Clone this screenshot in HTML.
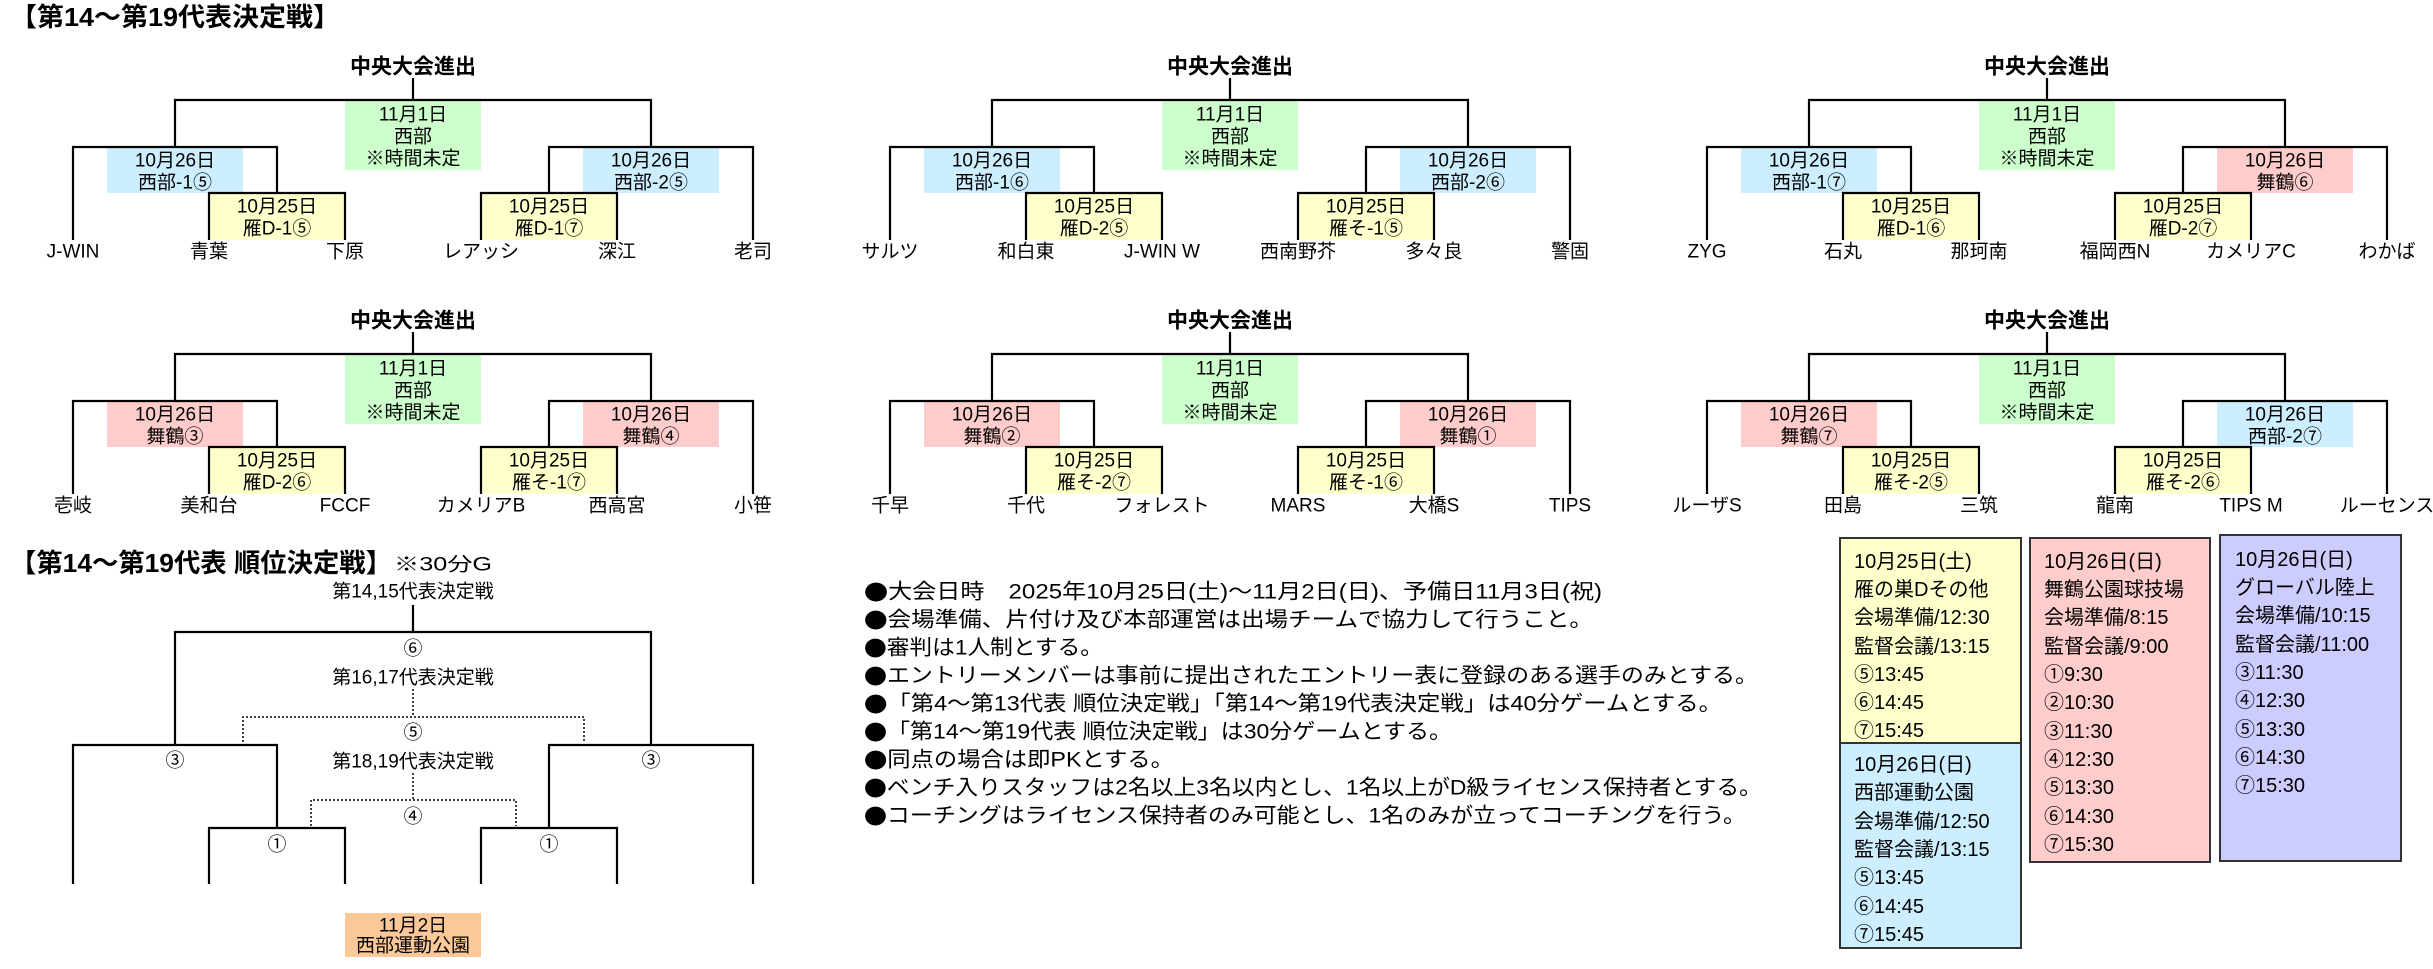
<!DOCTYPE html>
<html><head><meta charset="utf-8"><style>
html,body{margin:0;padding:0;background:#fff;width:2433px;height:969px;overflow:hidden}
svg{display:block}
text{font-family:"Liberation Sans","Noto Sans CJK JP",sans-serif;fill:#000}
.t{font-size:19px;text-anchor:middle;dominant-baseline:central}
.h{font-size:21px;font-weight:bold;text-anchor:middle;dominant-baseline:central}
.l{font-size:19px;text-anchor:middle;dominant-baseline:central}
.n{font-size:21px;dominant-baseline:central}
.s{font-size:20px;dominant-baseline:central}
.b{font-family:"Noto Sans CJK JP",sans-serif}
.ln{fill:none;stroke:#000;stroke-width:2.2}
.dt{fill:none;stroke:#000;stroke-width:1.5;stroke-dasharray:2 2}
</style></head><body>
<svg width="2433" height="969" viewBox="0 0 2433 969" xmlns="http://www.w3.org/2000/svg">
<defs>
<g id="br">
<line class="ln" x1="0" y1="78" x2="0" y2="100"/>
<rect x="-68" y="100" width="136" height="70" fill="#ccffcc"/>
<rect x="-204" y="193" width="136" height="47" fill="#ffffcc"/>
<rect x="68" y="193" width="136" height="47" fill="#ffffcc"/>
</g>
<g id="lines">
<polyline class="ln" points="-238,147 -238,100 238,100 238,147"/>
<polyline class="ln" points="-340,240 -340,147 -136,147 -136,193"/>
<polyline class="ln" points="-204,240 -204,193 -68,193 -68,240"/>
<polyline class="ln" points="340,240 340,147 136,147 136,193"/>
<polyline class="ln" points="204,240 204,193 68,193 68,240"/>
</g>
</defs>

<text x="10" y="17" font-size="26" font-weight="bold" dominant-baseline="central" textLength="330" lengthAdjust="spacingAndGlyphs">【第14～第19代表決定戦】</text>

<!-- B1 -->
<g transform="translate(413,0)">
<use href="#br"/>
<rect x="-306" y="147" width="136" height="46" fill="#cceeff"/>
<rect x="170" y="147" width="136" height="46" fill="#cceeff"/>
<use href="#lines"/>
<text class="h" x="0" y="67">中央大会進出</text>
<text class="t" x="0" y="115">11月1日</text><text class="t" x="0" y="137">西部</text><text class="t" x="0" y="159">※時間未定</text>
<text class="t" x="-238" y="161">10月26日</text><text class="t" x="-238" y="183">西部-1⑤</text>
<text class="t" x="238" y="161">10月26日</text><text class="t" x="238" y="183">西部-2⑤</text>
<text class="t" x="-136" y="207">10月25日</text><text class="t" x="-136" y="229">雁D-1⑤</text>
<text class="t" x="136" y="207">10月25日</text><text class="t" x="136" y="229">雁D-1⑦</text>
<text class="l" x="-340" y="252">J-WIN</text><text class="l" x="-204" y="252">青葉</text><text class="l" x="-68" y="252">下原</text>
<text class="l" x="68" y="252">レアッシ</text><text class="l" x="204" y="252">深江</text><text class="l" x="340" y="252">老司</text>
</g>

<!-- B2 -->
<g transform="translate(1230,0)">
<use href="#br"/>
<rect x="-306" y="147" width="136" height="46" fill="#cceeff"/>
<rect x="170" y="147" width="136" height="46" fill="#cceeff"/>
<use href="#lines"/>
<text class="h" x="0" y="67">中央大会進出</text>
<text class="t" x="0" y="115">11月1日</text><text class="t" x="0" y="137">西部</text><text class="t" x="0" y="159">※時間未定</text>
<text class="t" x="-238" y="161">10月26日</text><text class="t" x="-238" y="183">西部-1⑥</text>
<text class="t" x="238" y="161">10月26日</text><text class="t" x="238" y="183">西部-2⑥</text>
<text class="t" x="-136" y="207">10月25日</text><text class="t" x="-136" y="229">雁D-2⑤</text>
<text class="t" x="136" y="207">10月25日</text><text class="t" x="136" y="229">雁そ-1⑤</text>
<text class="l" x="-340" y="252">サルツ</text><text class="l" x="-204" y="252">和白東</text><text class="l" x="-68" y="252">J-WIN W</text>
<text class="l" x="68" y="252">西南野芥</text><text class="l" x="204" y="252">多々良</text><text class="l" x="340" y="252">警固</text>
</g>

<!-- B3 -->
<g transform="translate(2047,0)">
<use href="#br"/>
<rect x="-306" y="147" width="136" height="46" fill="#cceeff"/>
<rect x="170" y="147" width="136" height="46" fill="#ffcccc"/>
<use href="#lines"/>
<text class="h" x="0" y="67">中央大会進出</text>
<text class="t" x="0" y="115">11月1日</text><text class="t" x="0" y="137">西部</text><text class="t" x="0" y="159">※時間未定</text>
<text class="t" x="-238" y="161">10月26日</text><text class="t" x="-238" y="183">西部-1⑦</text>
<text class="t" x="238" y="161">10月26日</text><text class="t" x="238" y="183">舞鶴⑥</text>
<text class="t" x="-136" y="207">10月25日</text><text class="t" x="-136" y="229">雁D-1⑥</text>
<text class="t" x="136" y="207">10月25日</text><text class="t" x="136" y="229">雁D-2⑦</text>
<text class="l" x="-340" y="252">ZYG</text><text class="l" x="-204" y="252">石丸</text><text class="l" x="-68" y="252">那珂南</text>
<text class="l" x="68" y="252">福岡西N</text><text class="l" x="204" y="252">カメリアC</text><text class="l" x="340" y="252">わかば</text>
</g>

<!-- B4 -->
<g transform="translate(413,254)">
<use href="#br"/>
<rect x="-306" y="147" width="136" height="46" fill="#ffcccc"/>
<rect x="170" y="147" width="136" height="46" fill="#ffcccc"/>
<use href="#lines"/>
<text class="h" x="0" y="67">中央大会進出</text>
<text class="t" x="0" y="115">11月1日</text><text class="t" x="0" y="137">西部</text><text class="t" x="0" y="159">※時間未定</text>
<text class="t" x="-238" y="161">10月26日</text><text class="t" x="-238" y="183">舞鶴③</text>
<text class="t" x="238" y="161">10月26日</text><text class="t" x="238" y="183">舞鶴④</text>
<text class="t" x="-136" y="207">10月25日</text><text class="t" x="-136" y="229">雁D-2⑥</text>
<text class="t" x="136" y="207">10月25日</text><text class="t" x="136" y="229">雁そ-1⑦</text>
<text class="l" x="-340" y="252">壱岐</text><text class="l" x="-204" y="252">美和台</text><text class="l" x="-68" y="252">FCCF</text>
<text class="l" x="68" y="252">カメリアB</text><text class="l" x="204" y="252">西高宮</text><text class="l" x="340" y="252">小笹</text>
</g>

<!-- B5 -->
<g transform="translate(1230,254)">
<use href="#br"/>
<rect x="-306" y="147" width="136" height="46" fill="#ffcccc"/>
<rect x="170" y="147" width="136" height="46" fill="#ffcccc"/>
<use href="#lines"/>
<text class="h" x="0" y="67">中央大会進出</text>
<text class="t" x="0" y="115">11月1日</text><text class="t" x="0" y="137">西部</text><text class="t" x="0" y="159">※時間未定</text>
<text class="t" x="-238" y="161">10月26日</text><text class="t" x="-238" y="183">舞鶴②</text>
<text class="t" x="238" y="161">10月26日</text><text class="t" x="238" y="183">舞鶴①</text>
<text class="t" x="-136" y="207">10月25日</text><text class="t" x="-136" y="229">雁そ-2⑦</text>
<text class="t" x="136" y="207">10月25日</text><text class="t" x="136" y="229">雁そ-1⑥</text>
<text class="l" x="-340" y="252">千早</text><text class="l" x="-204" y="252">千代</text><text class="l" x="-68" y="252">フォレスト</text>
<text class="l" x="68" y="252">MARS</text><text class="l" x="204" y="252">大橋S</text><text class="l" x="340" y="252">TIPS</text>
</g>

<!-- B6 -->
<g transform="translate(2047,254)">
<use href="#br"/>
<rect x="-306" y="147" width="136" height="46" fill="#ffcccc"/>
<rect x="170" y="147" width="136" height="46" fill="#cceeff"/>
<use href="#lines"/>
<text class="h" x="0" y="67">中央大会進出</text>
<text class="t" x="0" y="115">11月1日</text><text class="t" x="0" y="137">西部</text><text class="t" x="0" y="159">※時間未定</text>
<text class="t" x="-238" y="161">10月26日</text><text class="t" x="-238" y="183">舞鶴⑦</text>
<text class="t" x="238" y="161">10月26日</text><text class="t" x="238" y="183">西部-2⑦</text>
<text class="t" x="-136" y="207">10月25日</text><text class="t" x="-136" y="229">雁そ-2⑤</text>
<text class="t" x="136" y="207">10月25日</text><text class="t" x="136" y="229">雁そ-2⑥</text>
<text class="l" x="-340" y="252">ルーザS</text><text class="l" x="-204" y="252">田島</text><text class="l" x="-68" y="252">三筑</text>
<text class="l" x="68" y="252">龍南</text><text class="l" x="204" y="252">TIPS M</text><text class="l" x="340" y="252">ルーセンス</text>
</g>

<!-- Ranking bracket -->
<text x="10" y="563" font-size="26" font-weight="bold" dominant-baseline="central" textLength="382" lengthAdjust="spacingAndGlyphs">【第14～第19代表 順位決定戦】</text>
<text x="394" y="565" font-size="19" dominant-baseline="central" textLength="98" lengthAdjust="spacingAndGlyphs">※30分G</text>
<g>
<text class="t" x="413" y="592" font-size="18">第14,15代表決定戦</text>
<line class="ln" x1="413" y1="605" x2="413" y2="632"/>
<polyline class="ln" points="175,745 175,632 651,632 651,745"/>
<text class="t" x="413" y="649">⑥</text>
<text class="t" x="413" y="678">第16,17代表決定戦</text>
<line class="dt" x1="413" y1="689" x2="413" y2="717"/>
<polyline class="dt" points="243,742 243,717 584,717 584,742"/>
<text class="t" x="413" y="733">⑤</text>
<polyline class="ln" points="73,884 73,745 277,745 277,828"/>
<polyline class="ln" points="753,884 753,745 549,745 549,828"/>
<text class="t" x="175" y="761">③</text><text class="t" x="651" y="761">③</text>
<text class="t" x="413" y="762">第18,19代表決定戦</text>
<line class="dt" x1="413" y1="773" x2="413" y2="800"/>
<polyline class="dt" points="311,826 311,800 516,800 516,826"/>
<text class="t" x="413" y="817">④</text>
<polyline class="ln" points="209,884 209,828 345,828 345,884"/>
<polyline class="ln" points="481,884 481,828 617,828 617,884"/>
<text class="t" x="277" y="845">①</text><text class="t" x="549" y="845">①</text>
<rect x="345" y="913" width="136" height="44" fill="#fbc898"/>
<text class="t" x="413" y="926">11月2日</text>
<text class="t" x="413" y="946">西部運動公園</text>
</g>

<!-- Notes -->
<text class="n" x="864" y="592" textLength="738" lengthAdjust="spacingAndGlyphs"><tspan class="b">●</tspan>大会日時　2025年10月25日(土)～11月2日(日)、予備日11月3日(祝)</text>
<text class="n" x="864" y="620" textLength="729" lengthAdjust="spacingAndGlyphs"><tspan class="b">●</tspan>会場準備、片付け及び本部運営は出場チームで協力して行うこと。</text>
<text class="n" x="864" y="648" textLength="239" lengthAdjust="spacingAndGlyphs"><tspan class="b">●</tspan>審判は1人制とする。</text>
<text class="n" x="864" y="676" textLength="894" lengthAdjust="spacingAndGlyphs"><tspan class="b">●</tspan>エントリーメンバーは事前に提出されたエントリー表に登録のある選手のみとする。</text>
<text class="n" x="864" y="704" textLength="858" lengthAdjust="spacingAndGlyphs"><tspan class="b">●</tspan>「第4～第13代表 順位決定戦」「第14～第19代表決定戦」は40分ゲームとする。</text>
<text class="n" x="864" y="732" textLength="588" lengthAdjust="spacingAndGlyphs"><tspan class="b">●</tspan>「第14～第19代表 順位決定戦」は30分ゲームとする。</text>
<text class="n" x="864" y="760" textLength="310" lengthAdjust="spacingAndGlyphs"><tspan class="b">●</tspan>同点の場合は即PKとする。</text>
<text class="n" x="864" y="788" textLength="898" lengthAdjust="spacingAndGlyphs"><tspan class="b">●</tspan>ベンチ入りスタッフは2名以上3名以内とし、1名以上がD級ライセンス保持者とする。</text>
<text class="n" x="864" y="816" textLength="882" lengthAdjust="spacingAndGlyphs"><tspan class="b">●</tspan>コーチングはライセンス保持者のみ可能とし、1名のみが立ってコーチングを行う。</text>

<!-- Schedule boxes -->
<rect x="1840" y="538" width="181" height="205" fill="#ffffcc" stroke="#333" stroke-width="2"/>
<rect x="1840" y="743" width="181" height="205" fill="#cceeff" stroke="#333" stroke-width="2"/>
<rect x="2030" y="538" width="180" height="324" fill="#ffcccc" stroke="#333" stroke-width="2"/>
<rect x="2220" y="535" width="181" height="326" fill="#ccccff" stroke="#333" stroke-width="2"/>

<text class="s" x="1854" y="562">10月25日(土)</text>
<text class="s" x="1854" y="590">雁の巣Dその他</text>
<text class="s" x="1854" y="618">会場準備/12:30</text>
<text class="s" x="1854" y="647">監督会議/13:15</text>
<text class="s" x="1854" y="675">⑤13:45</text>
<text class="s" x="1854" y="703">⑥14:45</text>
<text class="s" x="1854" y="731">⑦15:45</text>

<text class="s" x="1854" y="765">10月26日(日)</text>
<text class="s" x="1854" y="793">西部運動公園</text>
<text class="s" x="1854" y="822">会場準備/12:50</text>
<text class="s" x="1854" y="850">監督会議/13:15</text>
<text class="s" x="1854" y="878">⑤13:45</text>
<text class="s" x="1854" y="907">⑥14:45</text>
<text class="s" x="1854" y="935">⑦15:45</text>

<text class="s" x="2044" y="562">10月26日(日)</text>
<text class="s" x="2044" y="590">舞鶴公園球技場</text>
<text class="s" x="2044" y="618">会場準備/8:15</text>
<text class="s" x="2044" y="647">監督会議/9:00</text>
<text class="s" x="2044" y="675">①9:30</text>
<text class="s" x="2044" y="703">②10:30</text>
<text class="s" x="2044" y="732">③11:30</text>
<text class="s" x="2044" y="760">④12:30</text>
<text class="s" x="2044" y="788">⑤13:30</text>
<text class="s" x="2044" y="817">⑥14:30</text>
<text class="s" x="2044" y="845">⑦15:30</text>

<text class="s" x="2235" y="560">10月26日(日)</text>
<text class="s" x="2235" y="588">グローバル陸上</text>
<text class="s" x="2235" y="616">会場準備/10:15</text>
<text class="s" x="2235" y="645">監督会議/11:00</text>
<text class="s" x="2235" y="673">③11:30</text>
<text class="s" x="2235" y="701">④12:30</text>
<text class="s" x="2235" y="730">⑤13:30</text>
<text class="s" x="2235" y="758">⑥14:30</text>
<text class="s" x="2235" y="786">⑦15:30</text>
</svg>
</body></html>
